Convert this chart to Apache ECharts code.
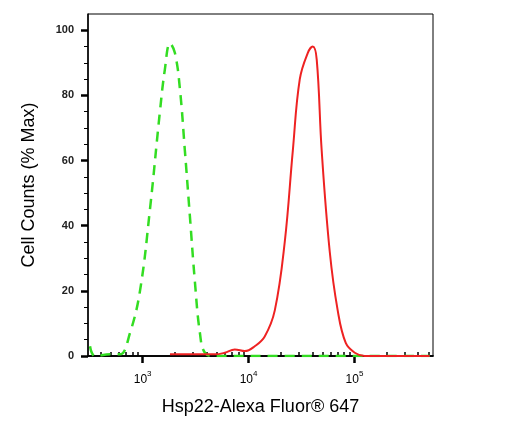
<!DOCTYPE html>
<html><head><meta charset="utf-8">
<script src="https://cdn.jsdelivr.net/npm/echarts@6/dist/echarts.min.js"></script>
<style>html,body{margin:0;padding:0;background:#fff}#c{width:511px;height:429px}</style>
</head><body><div id="c"></div>
<script>
// x values are log10(fluorescence)
const greenX = [2.503,2.55,2.692,2.786,2.88,2.975,3.069,3.163,3.21,3.258,3.305,3.352,3.399,3.446,3.493,3.541,3.588,3.682,5.71];
const greenY = [3,0,0.5,0.5,7,20,45,75,88,96,93,82,63,43,23,7,1,0,0];
const redX = [3.258,3.682,3.776,3.87,3.965,4.059,4.153,4.248,4.342,4.418,4.484,4.559,4.606,4.644,4.691,4.767,4.842,4.918,5.003,5.097,5.71];
const redY = [0.5,0.5,1,2,1.5,3,6,14,35,63,85,93,95,91,63,32,14,4,1,0,0];
const decades = [3,4,5];
const minorTicks = [];
for (let d = 2; d <= 5; d++) for (let k = 2; k <= 9; k++) { const v = d + Math.log10(k); if (v > 2.484 && v < 5.742) minorTicks.push(v); }
const yMajor = [0,20,40,60,80,100];
const yMinor = []; for (let v = 0; v <= 100; v += 5) if (v % 20) yMinor.push(v);

const chart = echarts.init(document.getElementById('c'));
const xBase = {type:'value', min:2.484, max:5.742, splitLine:{show:false},
  axisLine:{lineStyle:{color:'#000',width:1.5}}};
chart.setOption({
  animation:false,
  grid:{left:88,right:78,top:14,bottom:73,show:true,borderColor:'#000',borderWidth:1},
  xAxis:[
    Object.assign({}, xBase, {
      axisTick:{customValues:decades,length:7,lineStyle:{color:'#000',width:2.5}},
      axisLabel:{customValues:decades,margin:12,formatter:v=>'{a|10}{b|'+Math.round(v)+'}',
        rich:{a:{fontSize:12,fontFamily:'Arial',color:'#000',padding:[6,0,0,0]},b:{fontSize:8,fontFamily:'Arial',color:'#000',padding:[0,0,6,0]}}},
      name:'Hsp22-Alexa Fluor\u00AE 647',nameLocation:'middle',nameGap:42,
      nameTextStyle:{fontSize:18,fontFamily:'Arial',color:'#000'}
    }),
    Object.assign({}, xBase, {
      axisTick:{customValues:minorTicks,length:4,lineStyle:{color:'#000',width:1.5}},
      axisLabel:{show:false}
    })
  ],
  yAxis:[
    {type:'value',min:0,max:105,splitLine:{show:false},
      axisLine:{show:true,lineStyle:{color:'#000',width:1.5}},
      axisTick:{customValues:yMajor,length:7,lineStyle:{color:'#000',width:2.5}},
      axisLabel:{customValues:yMajor,margin:14,fontSize:11,fontWeight:'bold',fontFamily:'Arial',color:'#222'},
      name:'Cell Counts (% Max)',nameLocation:'middle',nameGap:50,
      nameTextStyle:{fontSize:18,fontFamily:'Arial',color:'#000'}},
    {type:'value',min:0,max:105,position:'left',splitLine:{show:false},
      axisLine:{show:false},
      axisTick:{customValues:yMinor,length:4,lineStyle:{color:'#000',width:1}},
      axisLabel:{show:false}}
  ],
  series:[
    {type:'line',smooth:0.4,symbol:'none',data:greenX.map((x,i)=>[x,greenY[i]]),
      lineStyle:{color:'#33dd22',width:2.5,type:[10,7]}},
    {type:'line',smooth:0.4,symbol:'none',data:redX.map((x,i)=>[x,redY[i]]),
      lineStyle:{color:'#ee2222',width:2}}
  ]
});
</script></body></html>
